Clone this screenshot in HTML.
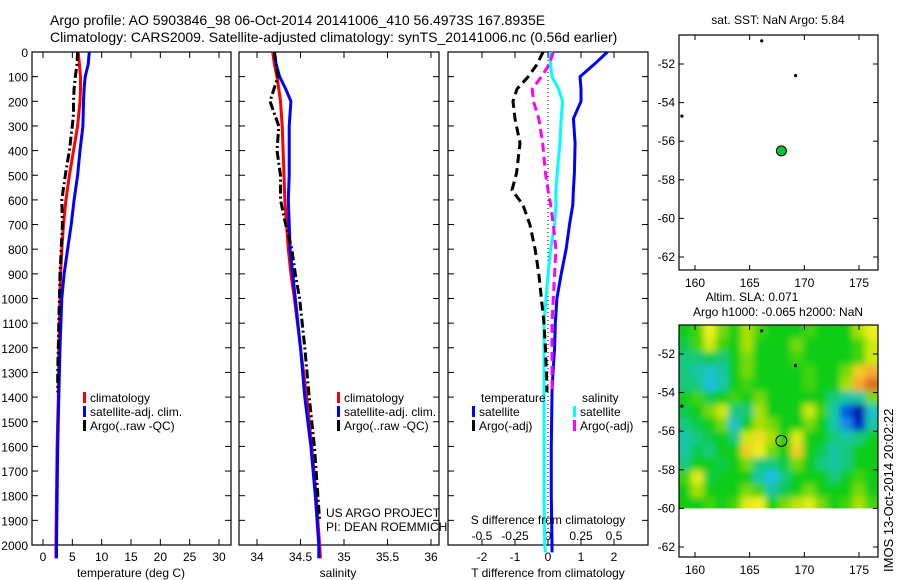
<!DOCTYPE html>
<html><head><meta charset="utf-8"><style>
body{margin:0;background:#fff;}
svg{display:block;font-family:"Liberation Sans",sans-serif;}
text{fill:#000;}
</style></head><body>
<svg id="fig" width="900" height="580" viewBox="0 0 900 580" xmlns="http://www.w3.org/2000/svg">
<text x="50" y="25" font-size="14">Argo profile: AO 5903846_98 06-Oct-2014 20141006_410 56.4973S 167.8935E</text>
<text x="50" y="42" font-size="14">Climatology: CARS2009. Satellite-adjusted climatology: synTS_20141006.nc (0.56d earlier)</text>
<g id="g1"></g>
<g id="g2"></g>
<g id="g3"></g>
<g id="g4"></g>
<g id="g5"></g>
<text transform="translate(893,572) rotate(-90)" font-size="13">IMOS 13-Oct-2014 20:02:22</text>
</svg>
<script>
// ---- profile data ----
const depthClim = [0,50,100,150,200,300,400,500,600,700,800,900,1000,1200,1400,1600,1800,2000,2054];
const tempClim  = [6.0,6.2,6.4,6.4,6.3,5.9,5.2,4.5,3.9,3.5,3.2,3.0,2.9,2.7,2.6,2.4,2.3,2.2,2.2];
const tempSat   = [7.9,7.7,7.2,7.0,6.9,6.8,6.3,5.9,5.3,4.8,4.2,3.6,3.2,2.9,2.7,2.5,2.4,2.3,2.3];
const salClim   = [34.18,34.2,34.23,34.25,34.27,34.29,34.3,34.31,34.32,34.34,34.36,34.39,34.43,34.5,34.57,34.63,34.68,34.72,34.73];
const salSat    = [34.2,34.22,34.26,34.33,34.39,34.37,34.37,34.37,34.36,34.37,34.38,34.41,34.44,34.5,34.55,34.62,34.67,34.71,34.71];
const depthArgo = [0,50,100,150,200,250,300,400,500,600,700,800,900,1000,1100,1200,1300,1380];
const tempArgo  = [5.9,5.8,5.5,5.3,5.2,5.2,5.0,4.5,3.8,3.2,3.3,3.1,2.9,2.8,2.7,2.6,2.5,2.5];
const depthArgoS= [0,100,200,300,400,500,600,700,800,900,1000,1200,1400,1600,1800,1900];
const salArgoFull=[34.2,34.24,34.15,34.25,34.23,34.27,34.27,34.33,34.4,34.44,34.49,34.55,34.6,34.66,34.7,34.72];
const depthDiff = [0,50,100,150,200,270,370,490,560,620,700,800,900,1000,1100,1200,1300,1380];
const dTsat  = [1.8,1.4,0.97,1.0,1.0,0.77,0.82,0.8,0.77,0.75,0.65,0.55,0.4,0.27,0.22,0.2,0.15,0.12];
const dTargo = [-0.15,-0.33,-0.6,-0.94,-1.06,-1.0,-0.85,-0.95,-1.09,-0.76,-0.55,-0.39,-0.28,-0.2,-0.12,-0.08,-0.05,-0.03];
const dSargo = [0.04,0.01,-0.05,-0.12,-0.11,-0.07,-0.04,-0.02,0,0.02,0.04,0.06,0.05,0.04,0.03,0.03,0.03,0.03];
const dSsat  = [0.015,0.02,0.03,0.08,0.11,0.1,0.09,0.07,0.06,0.06,0.05,0.02,0.0,-0.015,-0.03,-0.03,-0.03,-0.03];
const depthDeep = [1380,1600,1800,2000,2030];
const dTsatDeep = [0.12,0.1,0.1,0.12,0.12];
const dSsatDeep = [-0.03,-0.03,-0.03,-0.025,-0.02];
// ---- map data ----
const floatLon = 167.9, floatLat = -56.5;
const islandLon = [166.1,169.2,158.8];
const islandLat = [-50.8,-52.6,-54.7];
const slaGrid = [
[0,0.1,0.5,0.2,0,0.3,0.1,0,0,0,0.1,0,0,0,0.3,0.5],
[-0.1,0.1,0.4,0.1,0,0.3,0,0,0,0.2,0,0,0,0,0.1,0.4],
[-0.2,-0.2,-0.1,-0.2,0,0.2,0,0,0,0.1,0,0,0,0,0.1,0.4],
[-0.2,-0.3,-0.4,-0.3,0,0.2,0,0,0,0,0.1,0,0,0.2,0.6,0.7],
[-0.2,-0.2,-0.5,-0.3,0,0.1,0,0,0,0,0.1,0,0,0.3,0.7,0.85],
[0,0.1,-0.1,0,0.1,0,0.2,0,0,0,0,0,-0.2,-0.3,-0.3,0.2],
[-0.1,0,0.2,0.4,-0.2,-0.2,0.3,0,0,0,0.4,0.1,-0.3,-0.7,-0.95,-0.4],
[-0.2,-0.1,0,0.2,-0.4,0,0.3,0.2,0,0,0.2,0,-0.3,-0.6,-0.85,-0.3],
[-0.3,-0.2,-0.1,0,-0.2,0.4,0.55,0.3,0,0.45,0,0,-0.2,-0.3,-0.2,0],
[-0.3,-0.1,-0.2,0,0,0.6,0.5,0.2,0,0.6,0,-0.1,-0.3,-0.2,0,0],
[-0.2,0,0,-0.1,0,0.2,-0.2,-0.2,-0.1,0.2,0,-0.2,-0.3,-0.2,0,0],
[0.1,0.45,-0.1,0,0,0,-0.3,-0.5,-0.2,0,0,0,-0.2,0,0.1,0],
[0,0.3,0,0,0,0.2,0.1,-0.3,-0.1,0,0.2,0,0,0,0.2,0],
[0,0,0.1,0,0.1,0.45,0.5,0,0.2,0.35,0.45,0.2,0,0.1,0.3,0.1]];
const tempTicks=[0,5,10,15,20,25,30];
const salTicks=[34,34.5,35,35.5,36];
const tdTicks=[-2,-1,0,1,2];
const sdTicks=[-0.5,-0.25,0,0.25,0.5];
const sdLabels=['-0.5','-0.25','0','0.25','0.5'];
const depthTicks=[0,100,200,300,400,500,600,700,800,900,1000,1100,1200,1300,1400,1500,1600,1700,1800,1900,2000];
const latTicks=[-52,-54,-56,-58,-60,-62];
const lonTicks=[160,165,170,175];

const NS="http://www.w3.org/2000/svg";
function mk(p,tag,at,txt){const e=document.createElementNS(NS,tag);for(const k in at)e.setAttribute(k,at[k]);if(txt!==undefined)e.textContent=txt;p.appendChild(e);return e;}
const TOP=52,BOT=545;
const yD=d=>TOP+d*0.2465;
function lin(d0,d1,r0,r1){return v=>r0+(v-d0)/(d1-d0)*(r1-r0);}

function frame(g,x0,x1,name){
  const r=mk(g,'rect',{x:x0,y:TOP,width:x1-x0,height:BOT-TOP,fill:'none',stroke:'#000','stroke-width':1.2});
  
  
  depthTicks.forEach(d=>{const y=yD(d);
    mk(g,'line',{x1:x0,x2:x0+6,y1:y,y2:y,stroke:'#000'});
    mk(g,'line',{x1:x1,x2:x1-6,y1:y,y2:y,stroke:'#000'});
  });
}
function xticks(g,ticks,sx,y,labels){
  ticks.forEach((t,i)=>{const x=sx(t);
    mk(g,'line',{x1:x,x2:x,y1:TOP,y2:TOP+6,stroke:'#000'});
    mk(g,'line',{x1:x,x2:x,y1:BOT,y2:BOT-6,stroke:'#000'});
    const tx=mk(g,'text',{x:x,y:y,'font-size':12,'text-anchor':'middle'},labels?labels[i]:String(t));
    
    
  });
}
function path(g,xs,ds,sx,col,w,dash,name){
  let d='';xs.forEach((v,i)=>{d+=(i?'L':'M')+sx(v).toFixed(1)+','+yD(ds[i]).toFixed(1);});
  const p=mk(g,'path',{d:d,fill:'none',stroke:col,'stroke-width':w});
  if(dash)p.setAttribute('stroke-dasharray',dash);
  
  
}
function legend(g,x,y,items){
  items.forEach((it,i)=>{
    mk(g,'rect',{x:x,y:y+i*14-10,width:3,height:11,fill:it[1]});
    const t=mk(g,'text',{x:x+7,y:y+i*14,'font-size':12},it[0]);
    
    
  });
}
// panel 1
const g1=document.getElementById('g1');
const sT=lin(0,30,43,219);
frame(g1,32,231,'temperature');
depthTicks.forEach(d=>{const t=mk(g1,'text',{x:28,y:yD(d)+5,'font-size':12,'text-anchor':'end'},String(d));
  });
xticks(g1,tempTicks,sT,561);
path(g1,tempClim,depthClim,sT,'#f00',3,null,'temp-climatology-line');
path(g1,tempSat,depthClim,sT,'#00f',3,null,'temp-satellite-line');
path(g1,tempArgo,depthArgo,sT,'#000',3,'9,3,2,3','temp-argo-line');
legend(g1,83,402,[['climatology','#f00'],['satellite-adj. clim.','#00f'],['Argo(..raw -QC)','#000']]);
mk(g1,'text',{x:131,y:577,'font-size':12,'text-anchor':'middle'},'temperature (deg C)');
// panel 2
const g2=document.getElementById('g2');
const sS=lin(34,36,257,431);
frame(g2,239,439,'salinity');
xticks(g2,salTicks,sS,561);
path(g2,salClim,depthClim,sS,'#f00',3,null,'sal-climatology-line');
path(g2,salSat,depthClim,sS,'#00f',3,null,'sal-satellite-line');
path(g2,salArgoFull,depthArgoS,sS,'#000',3,'9,3,2,3','sal-argo-line');
legend(g2,337,402,[['climatology','#f00'],['satellite-adj. clim.','#00f'],['Argo(..raw -QC)','#000']]);
mk(g2,'text',{x:326,y:517,'font-size':12},'US ARGO PROJECT');
mk(g2,'text',{x:326,y:531,'font-size':12},'PI: DEAN ROEMMICH');
mk(g2,'text',{x:338,y:577,'font-size':12,'text-anchor':'middle'},'salinity');
// panel 3
const g3=document.getElementById('g3');
const sDT=lin(0,2,548,614), sDS=lin(0,0.5,548,614);
frame(g3,448,648,'difference');
xticks(g3,tdTicks,sDT,561);
sdTicks.forEach((t,i)=>{const tx=mk(g3,'text',{x:sDS(t),y:540,'font-size':12,'text-anchor':'middle'},sdLabels[i]);
  });
mk(g3,'line',{x1:548,x2:548,y1:TOP,y2:BOT,stroke:'#000','stroke-dasharray':'1,3'});
path(g3,dTsat.concat(dTsatDeep),depthDiff.concat(depthDeep),sDT,'#00f',3,null,'t-diff-satellite-line');
path(g3,dSsat.concat(dSsatDeep),depthDiff.concat(depthDeep),sDS,'#0ff',3,null,'s-diff-satellite-line');
path(g3,dTargo,depthDiff,sDT,'#000',3,'9,5','t-diff-argo-line');
path(g3,dSargo,depthDiff,sDS,'#f0f',3,'9,5','s-diff-argo-line');
mk(g3,'text',{x:481,y:402,'font-size':12},'temperature');
mk(g3,'text',{x:582,y:402,'font-size':12},'salinity');
legend(g3,472,416,[['satellite','#00f'],['Argo(-adj)','#000']]);
legend(g3,573,416,[['satellite','#0ff'],['Argo(-adj)','#f0f']]);
mk(g3,'text',{x:548,y:524,'font-size':12,'text-anchor':'middle'},'S difference from climatology');
mk(g3,'text',{x:548,y:577,'font-size':12,'text-anchor':'middle'},'T difference from climatology');
// maps
const sLon=lin(160,175,695,859);
function mapFrame(g,y0,y1,latY,name){
  const r=mk(g,'rect',{x:679,y:y0,width:199,height:y1-y0,fill:'none',stroke:'#000','stroke-width':1.2});
  
  
  latTicks.forEach(l=>{const y=latY(l);
    mk(g,'line',{x1:679,x2:684,y1:y,y2:y,stroke:'#000'});
    mk(g,'line',{x1:878,x2:873,y1:y,y2:y,stroke:'#000'});
    mk(g,'text',{x:675,y:y+4,'font-size':12,'text-anchor':'end'},String(l));});
  lonTicks.forEach(l=>{const x=sLon(l);
    mk(g,'line',{x1:x,x2:x,y1:y0,y2:y0+5,stroke:'#000'});
    mk(g,'line',{x1:x,x2:x,y1:y1,y2:y1-5,stroke:'#000'});
    mk(g,'text',{x:x,y:y1+17,'font-size':12,'text-anchor':'middle'},String(l));});
}
function islands(g,latY){
  islandLon.forEach((lo,i)=>{const c=mk(g,'circle',{cx:sLon(lo),cy:latY(islandLat[i]),r:1.6,fill:'#000'});
    });
}
const g4=document.getElementById('g4');
const lat1=lin(-52,-62,64,257);
mk(g4,'text',{x:778,y:24,'font-size':12,'text-anchor':'middle'},'sat. SST: NaN Argo: 5.84');
islands(g4,lat1);
const fc=mk(g4,'circle',{cx:sLon(floatLon),cy:lat1(floatLat),r:5,fill:'#11c030',stroke:'#000','stroke-width':1});

mapFrame(g4,35,270,lat1,'sst-map');
const g5=document.getElementById('g5');
const lat2=lin(-52,-62,354,547);
mk(g5,'text',{x:752,y:301,'font-size':12,'text-anchor':'middle'},'Altim. SLA: 0.071');
mk(g5,'text',{x:778,y:316,'font-size':12,'text-anchor':'middle'},'Argo h1000: -0.065 h2000: NaN');
const stops=[[-1,[0,0,150]],[-0.75,[0,60,230]],[-0.5,[30,190,230]],[-0.25,[20,200,150]],[0,[10,205,20]],[0.3,[170,225,0]],[0.5,[240,240,30]],[0.7,[245,170,50]],[0.9,[215,90,30]]];
function cmap(v){for(let i=1;i<stops.length;i++){if(v<=stops[i][0]){const a=stops[i-1],b=stops[i],f=(v-a[0])/(b[0]-a[0]);return 'rgb('+a[1].map((c,k)=>Math.round(c+f*(b[1][k]-c))).join(',')+')';}}return 'rgb(215,90,30)';}
const defs=mk(g5,'defs',{});
const cp=mk(defs,'clipPath',{id:'slaclip'});mk(cp,'rect',{x:679,y:325,width:199,height:lat2(-60)-325});
const fl=mk(defs,'filter',{id:'blur',x:'-10%',y:'-10%',width:'120%',height:'120%'});mk(fl,'feGaussianBlur',{stdDeviation:3.5});
const hg=mk(g5,'g',{'clip-path':'url(#slaclip)'});
const inner=mk(hg,'g',{filter:'url(#blur)'});
const nr=slaGrid.length,nc=slaGrid[0].length;
const lonL=158.5,lonR=176.7,latT=-50.5,latB=-60.1;
slaGrid.forEach((row,r)=>row.forEach((v,c)=>{
  const x0=sLon(lonL+(lonR-lonL)*c/nc)-(c==0?8:0), x1=sLon(lonL+(lonR-lonL)*(c+1)/nc)+(c==nc-1?8:0);
  const y0=lat2(latT+(latB-latT)*r/nr)-(r==0?8:0), y1=lat2(latT+(latB-latT)*(r+1)/nr)+(r==nr-1?8:0);
  const cell=mk(inner,'rect',{x:x0,y:y0,width:x1-x0+0.5,height:y1-y0+0.5,fill:cmap(v)});
  
  
}));
islands(g5,lat2);
const fc2=mk(g5,'circle',{cx:sLon(floatLon),cy:lat2(floatLat),r:5.5,fill:'none',stroke:'#000','stroke-width':1});

mapFrame(g5,325,557,lat2,'sla-map');
</script>
</body></html>
